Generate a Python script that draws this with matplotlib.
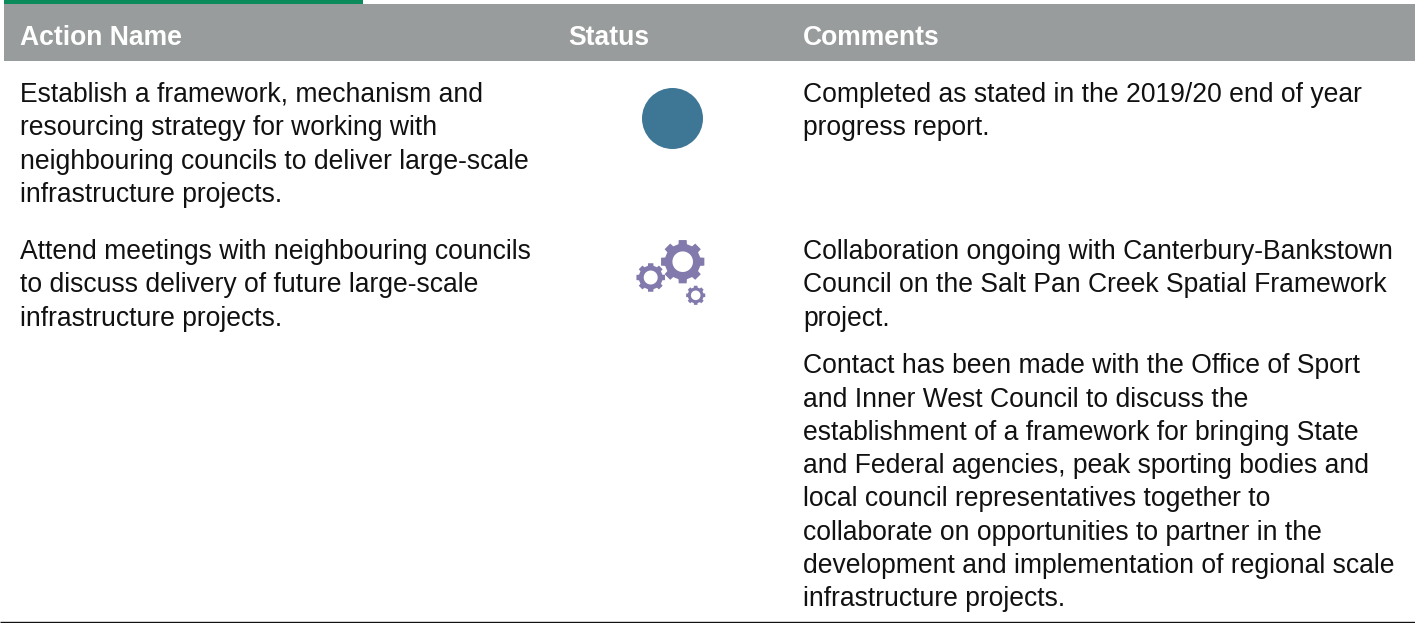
import numpy as np
import matplotlib
matplotlib.use('Agg')
import matplotlib.pyplot as plt
from matplotlib.patches import Circle, PathPatch, Rectangle
from matplotlib.path import Path

headers = ['Action Name', 'Status', 'Comments']
action_1 = ['Establish a framework, mechanism and',
            'resourcing strategy for working with',
            'neighbouring councils to deliver large-scale',
            'infrastructure projects.']
comment_1 = ['Completed as stated in the 2019/20 end of year',
             'progress report.']
action_2 = ['Attend meetings with neighbouring councils',
            'to discuss delivery of future large-scale',
            'infrastructure projects.']
comment_2a = ['Collaboration ongoing with Canterbury-Bankstown',
              'Council on the Salt Pan Creek Spatial Framework',
              'project.']
comment_2b = ['Contact has been made with the Office of Sport',
              'and Inner West Council to discuss the',
              'establishment of a framework for bringing State',
              'and Federal agencies, peak sporting bodies and',
              'local council representatives together to',
              'collaborate on opportunities to partner in the',
              'development and implementation of regional scale',
              'infrastructure projects.']

FS = 19.08
HEAD_FS = 19.1
PITCH = 33.3
GREY = '#999c9c'
GREEN = '#0b8a5c'
BLUE = '#3e7695'
PURPLE = '#8279ac'

plt.rcParams['font.family'] = ['Liberation Sans', 'DejaVu Sans']


def gear_path(cx, cy, r_out, r_in, r_hole, teeth=8):
    # outline of the teeth plus a round hole, hole runs the other way
    pts = []
    for i in range(teeth):
        a = 2 * np.pi * i / teeth
        w = 2 * np.pi / teeth
        for da, r in [(-0.30, r_in), (-0.23, r_out), (0.23, r_out), (0.30, r_in)]:
            pts.append((cx + r * np.cos(a + da * w), cy + r * np.sin(a + da * w)))
    pts.append(pts[0])
    codes = [Path.MOVETO] + [Path.LINETO] * (len(pts) - 2) + [Path.CLOSEPOLY]
    t = np.linspace(0, -2 * np.pi, 41)
    hole = list(zip(cx + r_hole * np.cos(t), cy + r_hole * np.sin(t)))
    hole_codes = [Path.MOVETO] + [Path.LINETO] * (len(hole) - 2) + [Path.CLOSEPOLY]
    return Path(pts + hole, codes + hole_codes)


def draw_lines(ax, x, y, lines, pitch=PITCH):
    for i, line in enumerate(lines):
        ax.text(x, y + i * pitch, line, fontsize=FS, color='#111111', va='baseline', ha='left')


fig = plt.figure(figsize=(14.15, 6.23), dpi=100)
ax = fig.add_axes([0, 0, 1, 1])
ax.set_xlim(0, 1415)
ax.set_ylim(623, 0)
ax.axis('off')

# top strip and header band
ax.add_patch(Rectangle((4, 0), 359, 4, color=GREEN, lw=0))
ax.add_patch(Rectangle((4, 4), 1411, 57, color=GREY, lw=0))
for x, h in zip([20, 568.5, 803], headers):
    ax.text(x, 45, h, fontsize=HEAD_FS, fontweight='bold', color='white', va='baseline', ha='left')

draw_lines(ax, 20, 101.6, action_1, pitch=33.6)
draw_lines(ax, 803, 101.6, comment_1, pitch=33.6)
draw_lines(ax, 20, 258.8, action_2, pitch=33.5)
draw_lines(ax, 803, 258.8, comment_2a, pitch=33.5)
draw_lines(ax, 803, 373.3, comment_2b)

# status icons
ax.add_patch(Circle((672.5, 118.5), 30.5, color=BLUE, lw=0))
for cx, cy, r_out, r_in, r_hole in [(682.7, 261.7, 22, 18, 10.3),
                                    (650.7, 277.5, 14.5, 12, 7),
                                    (695.7, 295.3, 9.7, 8, 4.8)]:
    ax.add_patch(PathPatch(gear_path(cx, cy, r_out, r_in, r_hole), facecolor=PURPLE, lw=0))

# closing rule
ax.plot([0, 1415], [622.2, 622.2], color='#111111', lw=1.0, solid_capstyle='butt')

fig.savefig('out.png', dpi=100)
